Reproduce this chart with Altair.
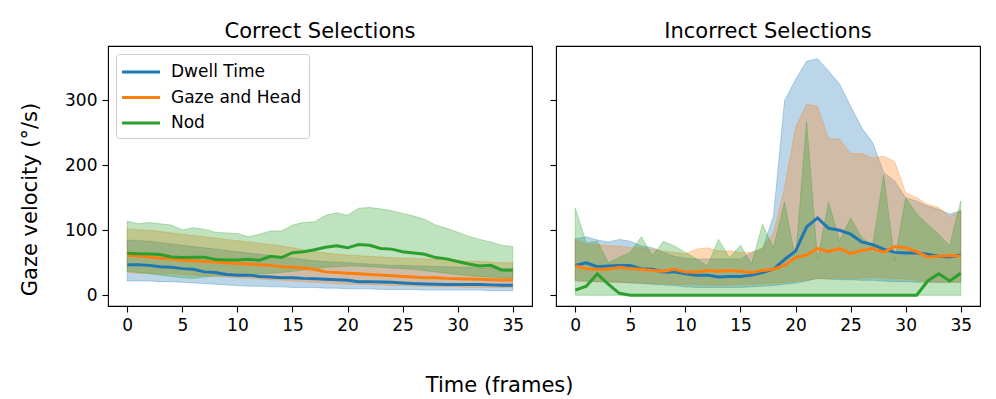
import altair as alt
import pandas as pd

FONT = "DejaVu Sans"
frames = list(range(36))
series_names = ["Dwell Time", "Gaze and Head", "Nod"]
palette = ["#1f77b4", "#ff7f0e", "#2ca02c"]
panel_titles = ["Correct Selections", "Incorrect Selections"]
y_ticks = [0, 100, 200, 300]
x_ticks = [0, 5, 10, 15, 20, 25, 30, 35]

# ---- Correct selections ----
c_dwell_mean = [47, 47, 46, 44, 43, 41, 40, 36, 35, 32, 31, 31, 29, 28, 27, 27, 26, 25.5, 24.6, 24,
                23, 21, 21, 20.5, 20, 19, 18, 17.4, 17, 16.4, 16.4, 16.4, 16.4, 16, 15.4, 15.4]
c_dwell_lo = [22, 22, 22, 21, 21, 20, 19, 18, 17, 16, 15, 14, 14, 13, 13, 12, 12, 12, 11, 11,
              10, 10, 10, 9, 9, 9, 9, 8, 8, 8, 8, 8, 8, 7, 7, 7]
c_dwell_hi = [85, 84, 83, 81, 79, 77, 75, 73, 71, 69, 67, 65, 63, 61, 59, 57, 55, 53, 52, 51,
              50, 49, 48, 47, 46, 46, 45, 45, 44, 44, 43, 43, 42, 42, 41, 41]
c_gaze_mean = [61.5, 60.5, 59, 57, 56, 54, 53, 52, 51, 50, 49, 48, 47, 46, 44, 43, 42, 39.5, 36, 35,
               34, 33, 32, 31, 30, 29, 28, 27, 27, 26, 25.6, 25, 24.6, 24, 23.6, 23.6]
c_gaze_lo = [35, 34, 34, 33, 33, 32, 31, 30, 29, 28, 27, 26, 25, 24, 23, 22, 21, 20, 19, 18,
             17, 17, 16, 16, 15, 15, 14, 14, 13, 13, 13, 12, 12, 12, 12, 12]
c_gaze_hi = [102, 101, 100, 98, 96, 94, 92, 90, 88, 86, 84, 82, 80, 78, 76, 73, 70, 67, 65, 63,
             62, 61, 60, 59, 58, 57, 57, 56, 55, 54, 53, 52, 52, 51, 50, 50]
c_nod_mean = [64.6, 64, 63.6, 62.6, 59, 58, 58.5, 58.5, 55, 54.4, 54.4, 55.4, 54, 60, 58, 65.6, 67, 70,
              74, 76, 73, 78, 77, 72, 71, 67, 65, 63, 58, 56, 52, 48, 45, 46, 39, 38.5]
c_nod_lo = [37, 35, 33, 31, 29, 27, 26, 28, 30, 30, 31, 32, 33, 34, 35, 37, 39, 41, 43, 44,
            45, 45, 44, 43, 42, 41, 40, 38, 36, 34, 32, 30, 29, 28, 27, 26]
c_nod_hi = [114, 110, 112, 110, 108, 100.5, 104, 101.5, 97, 96, 95, 90, 94, 99, 99, 108, 112, 113,
            123, 127, 123, 134, 135, 133, 130, 126, 122, 117, 108, 103, 97, 91, 86, 82, 77, 75]

# ---- Incorrect selections ----
i_dwell_mean = [46, 50, 44, 45, 46, 46, 41, 40, 36, 36, 33, 31, 31, 28, 29, 29, 31, 35, 40, 55,
                68, 105, 119, 103, 100, 94, 82, 78, 71, 66, 65, 65, 63, 60, 59, 62]
i_dwell_lo = [23, 22, 21, 21, 20, 19, 18, 17, 16, 15, 13, 12, 12, 12, 12, 12, 13, 14, 15, 17,
              19, 22, 26, 25, 24, 24, 23, 23, 22, 21, 21, 20, 20, 20, 20, 20]
i_dwell_hi = [87, 90, 85, 82, 86, 83, 76, 73, 66, 60, 57, 56, 56, 56, 56, 56, 66, 71, 122, 299,
              332, 360, 364, 345, 325, 291, 258, 235, 189, 176, 150, 145, 137, 132, 125, 130]
i_gaze_mean = [45, 41, 40, 40, 43, 41, 40, 38, 37, 40, 36, 36, 38, 37, 38, 37, 35, 38, 40, 46,
               58, 62, 72, 67, 72, 64, 69, 72, 66, 75, 73, 67, 59, 60, 61, 60]
i_gaze_lo = [22, 21, 21, 20, 20, 19, 19, 18, 18, 17, 17, 17, 16, 16, 16, 17, 17, 18, 19, 20,
             22, 24, 26, 25, 27, 26, 27, 28, 27, 26, 25, 23, 21, 20, 20, 20]
i_gaze_hi = [86, 78, 78, 76, 76, 73, 73, 71, 68, 66, 64, 71, 73, 68, 68, 66, 66, 73, 96, 165,
             258, 294, 291, 241, 240, 218, 218, 211, 214, 206, 158, 150, 140, 135, 121, 130]
i_nod_mean = [8, 14, 33, 17, 3, 0, 0, 0, 0, 0, 0, 0, 0, 0, 0, 0, 0, 0, 0, 0,
              0, 0, 0, 0, 0, 0, 0, 0, 0, 0, 0, 0, 22, 33, 22, 34]
i_nod_lo = [0, 0, 0, 0, 0, 0, 0, 0, 0, 0, 0, 0, 0, 0, 0, 0, 0, 0, 0, 0,
            0, 0, 0, 0, 0, 0, 0, 0, 0, 0, 0, 0, 0, 0, 0, 0]
i_nod_hi = [134, 81, 83, 50, 58, 66, 90, 61, 83, 76, 66, 56, 45, 86, 58, 77, 48, 109, 73, 143,
            55, 267, 55, 143, 84, 119, 89, 76, 185, 53, 150, 125, 109, 94, 76, 145]

panel_data = {
    "Correct Selections": {
        "Dwell Time": (c_dwell_mean, c_dwell_lo, c_dwell_hi),
        "Gaze and Head": (c_gaze_mean, c_gaze_lo, c_gaze_hi),
        "Nod": (c_nod_mean, c_nod_lo, c_nod_hi),
    },
    "Incorrect Selections": {
        "Dwell Time": (i_dwell_mean, i_dwell_lo, i_dwell_hi),
        "Gaze and Head": (i_gaze_mean, i_gaze_lo, i_gaze_hi),
        "Nod": (i_nod_mean, i_nod_lo, i_nod_hi),
    },
}


def to_frame(data):
    rows = []
    for s in series_names:
        m, lo, hi = data[s]
        for f, a, b, c in zip(frames, m, lo, hi):
            rows.append({"series": s, "frame": f, "mean": a, "lo": b, "hi": c})
    return pd.DataFrame(rows)


x_scale = alt.Scale(domain=[-1.75, 36.75], nice=False, zero=False)
y_scale = alt.Scale(domain=[-16.5, 383.5], nice=False, zero=False)
color_scale = alt.Scale(domain=series_names, range=palette)

x_axis = alt.Axis(values=x_ticks, title=None, labelAngle=0)
y_axis_left = alt.Axis(values=y_ticks, title="Gaze velocity (°/s)", titleX=-77.7, titleY=153,
                       titleAngle=-90, titleAlign="center", titleBaseline="middle",
                       titleFontSize=21)
y_axis_right = alt.Axis(values=y_ticks, title=None, labels=False)

legend = alt.Legend(title=None, orient="none", legendX=8, legendY=8,
                    symbolType="M-2,0L2,0", symbolSize=361, symbolStrokeWidth=3,
                    labelFontSize=17, labelFont=FONT, labelColor="black",
                    padding=7, rowPadding=6.5, symbolOffset=7, labelOffset=19,
                    strokeColor="#cccccc", fillColor="rgba(255,255,255,0.8)",
                    cornerRadius=3)


def panel(title, first):
    df = to_frame(panel_data[title])
    base = alt.Chart(df)
    yax = y_axis_left if first else y_axis_right
    areas, lines = [], []
    for s, c in zip(series_names, palette):
        sub = base.transform_filter(alt.datum.series == s)
        areas.append(sub.mark_area(fill=c, fillOpacity=0.3, stroke=c, strokeOpacity=0.3,
                                   strokeWidth=1).encode(
            x=alt.X("frame:Q", scale=x_scale, axis=x_axis),
            y=alt.Y("lo:Q", scale=y_scale, axis=yax),
            y2="hi:Q",
        ))
        lines.append(sub.mark_line(strokeWidth=3).encode(
            x=alt.X("frame:Q", scale=x_scale, axis=x_axis),
            y=alt.Y("mean:Q", scale=y_scale, axis=yax),
            stroke=alt.Stroke("series:N", scale=color_scale,
                              legend=legend if first else None),
        ))
    return alt.layer(*(areas + lines)).properties(
        width=424, height=260,
        title=alt.TitleParams(title, fontSize=21, offset=-17, baseline="bottom",
                              anchor="middle", frame="group"),
    )


chart = alt.hconcat(panel(panel_titles[0], True), panel(panel_titles[1], False), spacing=15).properties(
    title=alt.TitleParams("Time (frames)", orient="bottom", anchor="middle", fontSize=21,
                          offset=58, baseline="alphabetic"),
    padding={"left": 10, "top": 12, "right": 5, "bottom": 0},
).configure_view(stroke="black", strokeWidth=1.1).configure_axis(
    domain=False, grid=False, tickColor="black", tickWidth=1.1, tickSize=6,
    labelPadding=5, labelFontSize=17, labelFont=FONT, labelColor="black",
    titleFont=FONT, titleColor="black", titleFontWeight="normal",
).configure_title(font=FONT, fontSize=21, fontWeight="normal", color="black")

chart.save("out.html", embed_options={"renderer": "svg", "actions": False})
